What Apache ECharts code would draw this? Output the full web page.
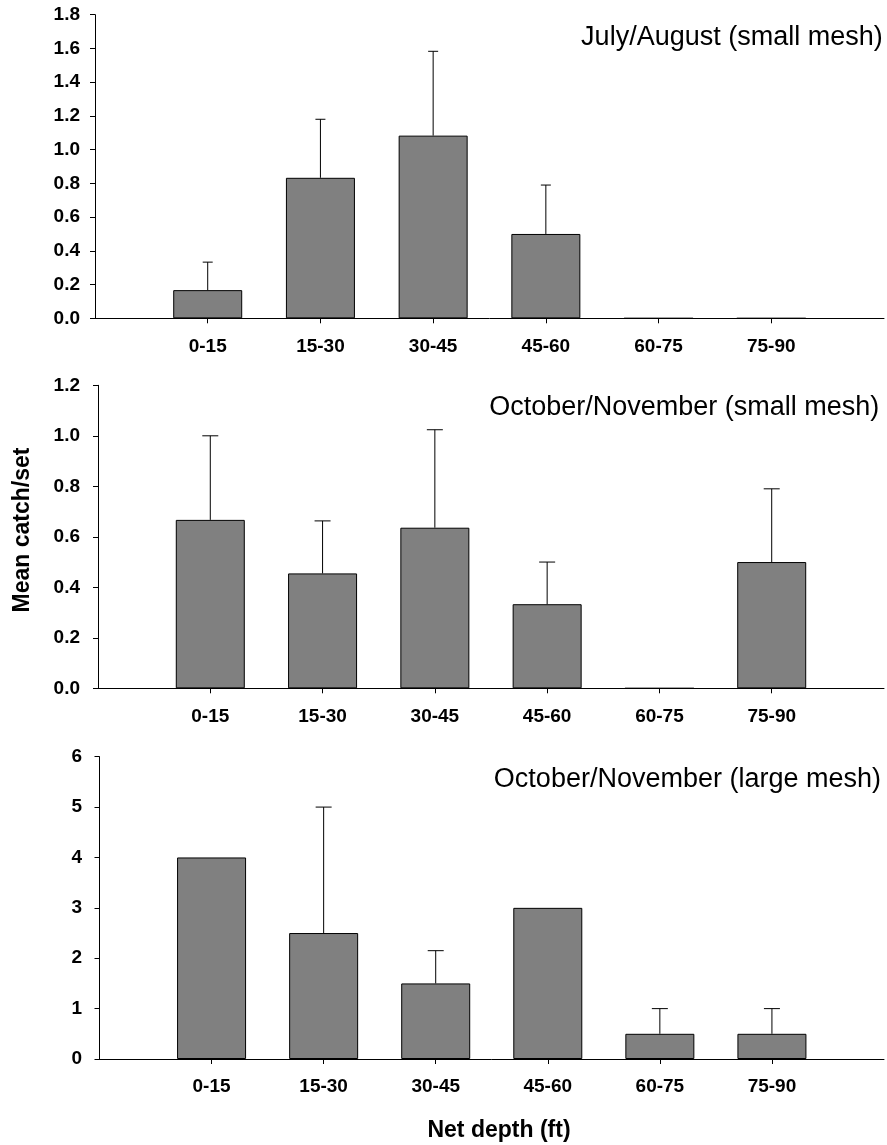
<!DOCTYPE html>
<html>
<head>
<meta charset="utf-8">
<script src="https://cdn.jsdelivr.net/npm/echarts@6/dist/echarts.min.js"></script>
<style>
html,body{margin:0;padding:0;background:#fff;}
#chart{width:887px;height:1145px;}
</style>
</head>
<body>
<div id="chart"></div>
<script>
// ---- data ----
const categories = ['0-15', '15-30', '30-45', '45-60', '60-75', '75-90'];
const julAugMean = [0.167, 0.833, 1.083, 0.5, 0, 0];
const julAugUpper = [0.333, 1.18, 1.583, 0.79, null, null];
const octNovSmallMean = [0.667, 0.455, 0.636, 0.333, 0, 0.5];
const octNovSmallUpper = [1.0, 0.663, 1.024, 0.5, null, 0.79];
const octNovLargeMean = [4, 2.5, 1.5, 3, 0.5, 0.5];
const octNovLargeUpper = [null, 5.0, 2.15, null, 1.0, 1.0];
const panelTitles = ['July/August (small mesh)', 'October/November (small mesh)', 'October/November (large mesh)'];
const yAxisTitle = 'Mean catch/set';
const xAxisTitle = 'Net depth (ft)';

// ---- build ----
const FF = '"Liberation Sans", Arial, Helvetica, sans-serif';
const padded = [''].concat(categories, ['']);
function pad(arr) { return [null].concat(arr, [null]); }

const panels = [
  {mean: julAugMean, upper: julAugUpper, max: 1.8, interval: 0.2, dec: 1,
   grid: {left: 95, top: 14.7, height: 303.6, width: 797}, labelMargin: 15, cap: 10,
   title: {x: 882.7, y: 37.3}},
  {mean: octNovSmallMean, upper: octNovSmallUpper, max: 1.2, interval: 0.2, dec: 1,
   grid: {left: 98, top: 385.3, height: 303, width: 797}, labelMargin: 18, cap: 16,
   title: {x: 879.3, y: 407.5}},
  {mean: octNovLargeMean, upper: octNovLargeUpper, max: 6, interval: 1, dec: 0,
   grid: {left: 99.5, top: 756.7, height: 302.3, width: 798}, labelMargin: 17.5, cap: 16,
   title: {x: 881, y: 779.5}}
];

const grids = [], xAxes = [], yAxes = [], series = [], graphics = [];
panels.forEach((p, i) => {
  grids.push(Object.assign({containLabel: false}, p.grid));
  xAxes.push({
    type: 'category', gridIndex: i, data: padded, boundaryGap: false,
    axisLine: {show: true, onZero: false, lineStyle: {color: '#000', width: 1}},
    axisTick: {show: true, length: 5, interval: (idx, val) => val !== '', lineStyle: {color: '#000', width: 1}},
    axisLabel: {interval: 0, margin: 18.5, fontSize: 19, fontWeight: 'bold', color: '#000', fontFamily: FF},
    splitLine: {show: false}
  });
  yAxes.push({
    type: 'value', gridIndex: i, min: 0, max: p.max, interval: p.interval,
    axisLine: {show: true, lineStyle: {color: '#000', width: 1}},
    axisTick: {show: true, length: 5, lineStyle: {color: '#000', width: 1}},
    axisLabel: {margin: p.labelMargin, fontSize: 19, fontWeight: 'bold', color: '#000', fontFamily: FF,
      formatter: v => v.toFixed(p.dec)},
    splitLine: {show: false}
  });
  series.push({
    type: 'bar', xAxisIndex: i, yAxisIndex: i, data: pad(p.mean), barWidth: 69,
    itemStyle: {color: '#808080', borderColor: '#000', borderWidth: 1},
    silent: true, z: 2
  });
  const errData = [];
  p.upper.forEach((u, k) => { if (u !== null) errData.push([k + 1, p.mean[k], u]); });
  const cw = p.cap;
  series.push({
    type: 'custom', xAxisIndex: i, yAxisIndex: i, data: errData, z: 3, silent: true,
    encode: {x: 0, y: [1, 2]},
    renderItem: function (params, api) {
      const x = api.value(0), m = api.value(1), u = api.value(2);
      const p0 = api.coord([x, m]);
      const p1 = api.coord([x, u]);
      return {
        type: 'group',
        children: [
          {type: 'line', shape: {x1: p0[0], y1: p0[1], x2: p1[0], y2: p1[1]}, style: {stroke: '#000', lineWidth: 1}},
          {type: 'line', shape: {x1: p1[0] - cw / 2, y1: p1[1], x2: p1[0] + cw / 2, y2: p1[1]}, style: {stroke: '#000', lineWidth: 1}}
        ]
      };
    }
  });
  graphics.push({
    type: 'text', x: p.title.x, y: p.title.y,
    style: {text: panelTitles[i], font: '27px ' + FF, fill: '#000', textAlign: 'right', textVerticalAlign: 'middle'}
  });
});

graphics.push({
  type: 'text', x: 22.5, y: 530, rotation: Math.PI / 2,
  style: {text: yAxisTitle, font: 'bold 23px ' + FF, fill: '#000', textAlign: 'center', textVerticalAlign: 'middle'}
});
graphics.push({
  type: 'text', x: 499, y: 1130.5,
  style: {text: xAxisTitle, font: 'bold 23px ' + FF, fill: '#000', textAlign: 'center', textVerticalAlign: 'middle'}
});

const chart = echarts.init(document.getElementById('chart'), null, {renderer: 'canvas'});
chart.setOption({
  animation: false,
  backgroundColor: '#fff',
  grid: grids,
  xAxis: xAxes,
  yAxis: yAxes,
  series: series,
  graphic: graphics
});
</script>
</body>
</html>
